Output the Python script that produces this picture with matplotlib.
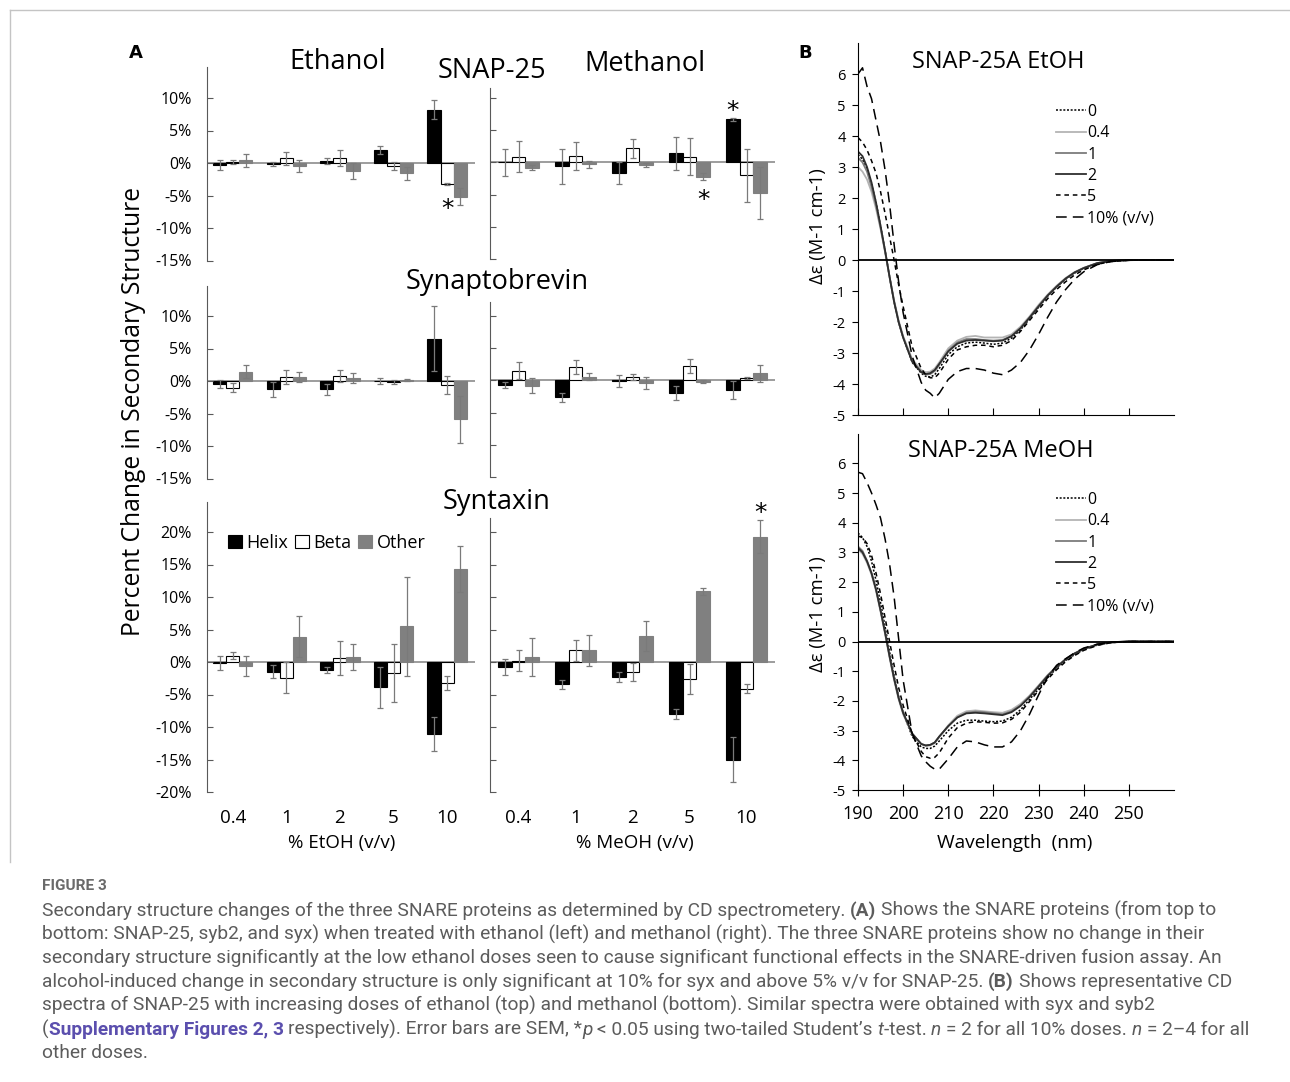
import numpy as np
import matplotlib
matplotlib.use("Agg")
import matplotlib.pyplot as plt
from matplotlib.lines import Line2D

plt.rcParams['font.family'] = ['Open Sans', 'DejaVu Sans']
plt.rcParams['axes.unicode_minus'] = False

W, H = 1290, 1082

# ---------------- Panel A data (percent change) ----------------
doses = ["0.4", "1", "2", "5", "10"]

snap_etoh_helix = [-0.3, -0.1, 0.3, 2.0, 8.2]
snap_etoh_helix_err = [0.8, 0.3, 0.5, 0.6, 1.5]
snap_etoh_beta = [0.1, 0.7, 0.8, -0.5, -3.2]
snap_etoh_beta_err = [0.3, 1.0, 1.2, 0.6, 0.2]
snap_etoh_other = [0.4, -0.5, -1.2, -1.6, -5.2]
snap_etoh_other_err = [1.0, 0.9, 1.2, 1.0, 1.3]

snap_meoh_helix = [0.0, -0.6, -1.6, 1.4, 6.7]
snap_meoh_helix_err = [2.1, 2.7, 1.7, 2.5, 0.2]
snap_meoh_beta = [0.9, 1.0, 2.2, 0.9, -2.0]
snap_meoh_beta_err = [2.4, 2.1, 1.5, 2.9, 4.1]
snap_meoh_other = [-0.8, -0.3, -0.4, -2.2, -4.7]
snap_meoh_other_err = [0.4, 0.6, 0.3, 0.5, 4.0]

syb_etoh_helix = [-0.4, -1.3, -1.3, 0.0, 6.5]
syb_etoh_helix_err = [0.6, 1.2, 0.9, 0.4, 5.0]
syb_etoh_beta = [-1.0, 0.6, 0.8, -0.1, -0.6]
syb_etoh_beta_err = [0.7, 1.1, 0.9, 0.3, 1.4]
syb_etoh_other = [1.4, 0.6, 0.5, 0.1, -5.9]
syb_etoh_other_err = [1.0, 0.8, 0.8, 0.15, 3.6]

syb_meoh_helix = [-0.7, -2.6, -0.1, -1.9, -1.5]
syb_meoh_helix_err = [0.4, 0.7, 0.9, 1.1, 1.4]
syb_meoh_beta = [1.5, 2.1, 0.5, 2.2, 0.4]
syb_meoh_beta_err = [1.3, 1.1, 0.45, 1.1, 0.2]
syb_meoh_other = [-0.8, 0.6, -0.4, -0.2, 1.1]
syb_meoh_other_err = [1.2, 0.6, 0.9, 0.2, 1.3]

syx_etoh_helix = [-0.2, -1.5, -1.2, -3.9, -11.1]
syx_etoh_helix_err = [1.1, 1.0, 0.5, 3.1, 2.6]
syx_etoh_beta = [1.0, -2.4, 0.6, -1.7, -3.2]
syx_etoh_beta_err = [0.5, 2.4, 2.6, 4.5, 1.1]
syx_etoh_other = [-0.6, 3.9, 0.7, 5.5, 14.3]
syx_etoh_other_err = [1.6, 3.2, 2.0, 7.6, 3.6]

syx_meoh_helix = [-0.8, -3.4, -2.3, -8.0, -15.0]
syx_meoh_helix_err = [1.2, 0.7, 0.8, 0.7, 3.4]
syx_meoh_beta = [0.2, 1.8, -1.5, -2.6, -4.1]
syx_meoh_beta_err = [1.6, 1.6, 1.4, 2.3, 0.7]
syx_meoh_other = [0.8, 1.8, 4.0, 10.9, 19.3]
syx_meoh_other_err = [2.9, 2.4, 2.3, 0.55, 2.5]

# significance stars: (dose index, series, y in %)
snap_etoh_stars = [(4, "beta", -7.1)]
snap_meoh_stars = [(4, "helix", 7.9), (3, "other", -5.9)]
syx_meoh_stars = [(4, "other", 22.9)]

# ---------------- Panel B data (CD spectra, delta epsilon) ----------------
wl = [190, 191, 192, 193, 194, 195, 196, 197, 198, 199, 200, 202, 204, 205, 206, 207, 208,
      210, 212, 214, 216, 218, 220, 222, 224, 226, 228, 230, 232, 234, 236, 238, 240,
      243, 246, 250, 255, 260]

etoh_0 = [3.4, 3.25, 2.95, 2.45, 1.85, 1.1, 0.3, -0.55, -1.35, -2.0, -2.5, -3.3, -3.65, -3.75,
          -3.78, -3.7, -3.5, -3.05, -2.8, -2.68, -2.65, -2.68, -2.72, -2.68, -2.52, -2.25,
          -1.9, -1.52, -1.17, -0.87, -0.62, -0.42, -0.27, -0.11, -0.04, 0.0, 0.0, 0.0]
etoh_04 = [3.0, 2.85, 2.6, 2.2, 1.65, 1.0, 0.25, -0.55, -1.3, -1.95, -2.45, -3.2, -3.55, -3.62,
           -3.6, -3.5, -3.3, -2.85, -2.6, -2.48, -2.45, -2.5, -2.5, -2.5, -2.4, -2.15,
           -1.82, -1.45, -1.12, -0.83, -0.58, -0.39, -0.25, -0.1, -0.03, 0.0, 0.0, 0.0]
etoh_1 = [3.3, 3.15, 2.85, 2.35, 1.75, 1.05, 0.28, -0.55, -1.35, -2.0, -2.5, -3.25, -3.6, -3.7,
          -3.68, -3.58, -3.38, -2.92, -2.66, -2.55, -2.55, -2.58, -2.6, -2.58, -2.45, -2.2,
          -1.86, -1.48, -1.14, -0.85, -0.6, -0.4, -0.26, -0.1, -0.03, 0.0, 0.0, 0.0]
etoh_2 = [3.5, 3.35, 3.0, 2.5, 1.85, 1.1, 0.3, -0.55, -1.35, -2.0, -2.5, -3.28, -3.62, -3.68,
          -3.65, -3.55, -3.35, -2.95, -2.7, -2.6, -2.58, -2.6, -2.62, -2.6, -2.46, -2.2,
          -1.86, -1.5, -1.15, -0.86, -0.6, -0.4, -0.26, -0.1, -0.03, 0.0, 0.0, 0.0]
etoh_5 = [3.95, 3.8, 3.55, 3.2, 2.8, 2.2, 1.5, 0.75, 0.0, -0.8, -1.5, -2.8, -3.5, -3.7,
          -3.8, -3.8, -3.65, -3.2, -2.9, -2.8, -2.75, -2.75, -2.8, -2.75, -2.6, -2.3,
          -1.95, -1.6, -1.25, -0.95, -0.7, -0.48, -0.32, -0.14, -0.05, -0.01, 0.0, 0.0]
etoh_10 = [6.0, 6.2, 5.6, 5.2, 4.5, 3.8, 2.9, 1.8, 0.5, -0.7, -1.7, -3.1, -3.95, -4.2,
           -4.3, -4.45, -4.3, -3.85, -3.6, -3.5, -3.5, -3.55, -3.65, -3.7, -3.55, -3.3,
           -2.9, -2.4, -1.85, -1.35, -0.95, -0.62, -0.38, -0.15, -0.05, -0.01, 0.0, 0.0]

meoh_0 = [3.65, 3.5, 3.2, 2.7, 2.05, 1.3, 0.5, -0.35, -1.15, -1.85, -2.4, -3.2, -3.55, -3.6,
          -3.6, -3.52, -3.35, -3.0, -2.75, -2.65, -2.65, -2.68, -2.7, -2.68, -2.55, -2.3,
          -1.95, -1.6, -1.22, -0.9, -0.64, -0.44, -0.28, -0.12, -0.04, 0.0, 0.0, 0.0]
meoh_04 = [3.1, 2.95, 2.65, 2.25, 1.7, 1.0, 0.25, -0.55, -1.3, -1.95, -2.45, -3.12, -3.45, -3.52,
           -3.5, -3.42, -3.22, -2.82, -2.5, -2.35, -2.32, -2.35, -2.38, -2.4, -2.3, -2.1,
           -1.82, -1.48, -1.13, -0.84, -0.59, -0.4, -0.25, -0.1, -0.03, 0.01, 0.0, 0.0]
meoh_1 = [3.2, 3.05, 2.72, 2.3, 1.75, 1.05, 0.3, -0.5, -1.25, -1.9, -2.4, -3.1, -3.45, -3.5,
          -3.48, -3.4, -3.2, -2.85, -2.55, -2.4, -2.36, -2.38, -2.42, -2.45, -2.35, -2.15,
          -1.85, -1.5, -1.15, -0.85, -0.6, -0.4, -0.25, -0.1, -0.03, 0.01, 0.0, 0.0]
meoh_2 = [3.15, 3.0, 2.7, 2.3, 1.75, 1.05, 0.3, -0.5, -1.25, -1.9, -2.4, -3.1, -3.45, -3.5,
          -3.48, -3.4, -3.2, -2.85, -2.56, -2.42, -2.4, -2.42, -2.45, -2.48, -2.38, -2.17,
          -1.87, -1.52, -1.16, -0.86, -0.6, -0.4, -0.25, -0.1, -0.03, 0.0, 0.0, 0.0]
meoh_5 = [3.55, 3.5, 3.3, 2.9, 2.3, 1.6, 0.8, 0.0, -0.8, -1.55, -2.15, -3.1, -3.7, -3.88,
          -3.93, -3.9, -3.75, -3.25, -2.9, -2.75, -2.7, -2.72, -2.75, -2.74, -2.62, -2.38,
          -2.02, -1.65, -1.27, -0.95, -0.68, -0.47, -0.3, -0.13, -0.04, 0.0, 0.0, 0.0]
meoh_10 = [5.7, 5.65, 5.35, 5.0, 4.6, 4.15, 3.45, 2.6, 1.5, 0.1, -1.3, -3.1, -3.85, -4.05,
           -4.2, -4.3, -4.3, -3.95, -3.55, -3.35, -3.38, -3.48, -3.55, -3.55, -3.38, -3.0,
           -2.45, -1.8, -1.2, -0.8, -0.58, -0.38, -0.22, -0.09, -0.03, 0.0, 0.0, 0.0]

cd_labels = ["0", "0.4", "1", "2", "5", "10% (v/v)"]
cd_styles = [
    dict(color="black", lw=1.1, ls=(0, (1.3, 1.1))),
    dict(color="#b4b4b4", lw=1.3, ls="-"),
    dict(color="#7c7c7c", lw=1.3, ls="-"),
    dict(color="#2e2e2e", lw=1.3, ls="-"),
    dict(color="black", lw=1.1, ls=(0, (3, 2.5))),
    dict(color="black", lw=1.1, ls=(0, (7, 4))),
]

fig = plt.figure(figsize=(W / 100, H / 100), dpi=100)


def fx(x):
    return x / W


def fy(y):
    return 1 - y / H


def add_ax(x0, y0, x1, y1):
    return fig.add_axes([fx(x0), fy(y1), (x1 - x0) / W, (y1 - y0) / H])


SPINE = "#595959"
GREY = "#808080"
PX_PER_PCT = 6.5


def bar_ax(xr, y_zero, ylim):
    return add_ax(xr[0], y_zero - ylim[1] * PX_PER_PCT, xr[1], y_zero - ylim[0] * PX_PER_PCT)


def bar_panel(ax, data, ylim, yticks, xlim, show_ylabels, show_xlabels, stars=()):
    helix, helix_err, beta, beta_err, other, other_err = data
    x = np.arange(len(doses))
    w = 0.245
    ek = dict(ecolor="#7a7a7a", elinewidth=0.9, capsize=2, capthick=0.9)
    ax.bar(x - w, helix, w, yerr=helix_err, color="black", edgecolor="black", lw=0.8,
           error_kw=ek, label="Helix")
    ax.bar(x, beta, w, yerr=beta_err, color="white", edgecolor="black", lw=0.8,
           error_kw=ek, label="Beta")
    ax.bar(x + w, other, w, yerr=other_err, color=GREY, edgecolor=GREY, lw=0.8,
           error_kw=ek, label="Other")
    ax.axhline(0, color="#8c8c8c", lw=1.2, zorder=0.5)
    offs = {"helix": -w, "beta": 0, "other": w}
    for i, s, yv in stars:
        ax.text(i + offs[s], yv, "*", ha="center", va="center", fontsize=18,
                family="DejaVu Sans")
    ax.set_xlim(*xlim)
    ax.set_ylim(*ylim)
    for s in ["top", "right", "bottom"]:
        ax.spines[s].set_visible(False)
    ax.spines["left"].set_color(SPINE)
    ax.set_yticks(yticks)
    ax.set_yticklabels([f"{t}%" for t in yticks] if show_ylabels else [])
    ax.tick_params(axis="y", direction="in", length=4, color=SPINE, labelsize=11.5, pad=11)
    if show_xlabels:
        ax.set_xticks(x)
        ax.set_xticklabels(doses, fontsize=13.5)
        ax.tick_params(axis="x", length=0, pad=12)
    else:
        ax.set_xticks([])
    ax.patch.set_alpha(0)


LX = (207, 475)
RX = (490, 775)
xl_left = (-0.48, 4.52)
xl_right = (-0.5, 4.5)

t15 = list(range(-15, 11, 5))
t20 = list(range(-20, 21, 5))

ylim = (-15, 14.7)
ax = bar_ax(LX, 163, ylim)
bar_panel(ax, (snap_etoh_helix, snap_etoh_helix_err, snap_etoh_beta, snap_etoh_beta_err,
               snap_etoh_other, snap_etoh_other_err), ylim, t15, xl_left, True, False,
          snap_etoh_stars)
ylim = (-14.8, 11.5)
ax = bar_ax(RX, 163, ylim)
bar_panel(ax, (snap_meoh_helix, snap_meoh_helix_err, snap_meoh_beta, snap_meoh_beta_err,
               snap_meoh_other, snap_meoh_other_err), ylim, t15, xl_right, False, False,
          snap_meoh_stars)

ylim = (-15, 14.6)
ax = bar_ax(LX, 381, ylim)
bar_panel(ax, (syb_etoh_helix, syb_etoh_helix_err, syb_etoh_beta, syb_etoh_beta_err,
               syb_etoh_other, syb_etoh_other_err), ylim, t15, xl_left, True, False)
ylim = (-14.8, 12.2)
ax = bar_ax(RX, 381, ylim)
bar_panel(ax, (syb_meoh_helix, syb_meoh_helix_err, syb_meoh_beta, syb_meoh_beta_err,
               syb_meoh_other, syb_meoh_other_err), ylim, t15, xl_right, False, False)

ylim = (-20, 24.6)
ax_syx = bar_ax(LX, 662, ylim)
bar_panel(ax_syx, (syx_etoh_helix, syx_etoh_helix_err, syx_etoh_beta, syx_etoh_beta_err,
                   syx_etoh_other, syx_etoh_other_err), ylim, t20, xl_left, True, True)
ylim = (-20, 22.2)
ax = bar_ax(RX, 662, ylim)
bar_panel(ax, (syx_meoh_helix, syx_meoh_helix_err, syx_meoh_beta, syx_meoh_beta_err,
               syx_meoh_other, syx_meoh_other_err), ylim, t20, xl_right, False, True,
          syx_meoh_stars)

ax_syx.legend(loc="center left", bbox_to_anchor=(fx(228), fy(543)),
              bbox_transform=fig.transFigure, ncol=3, frameon=False, fontsize=13,
              handlelength=0.75, handleheight=0.75, handletextpad=0.25, columnspacing=0.4,
              borderpad=0, borderaxespad=0)

title_kw = dict(ha="center", va="center", fontsize=19.5)
fig.text(fx(338), fy(62), "Ethanol", **title_kw)
fig.text(fx(492), fy(71), "SNAP-25", **title_kw)
fig.text(fx(645), fy(64), "Methanol", **title_kw)
fig.text(fx(497), fy(282), "Synaptobrevin", **title_kw)
fig.text(fx(497), fy(502), "Syntaxin", **title_kw)
fig.text(fx(342), fy(843), "% EtOH (v/v)", ha="center", va="center", fontsize=13.5)
fig.text(fx(635), fy(843), "% MeOH (v/v)", ha="center", va="center", fontsize=13.5)
fig.text(fx(134), fy(412), "Percent Change in Secondary Structure", rotation=90,
         ha="center", va="center", fontsize=17.7)
fig.text(fx(136), fy(53), "A", ha="center", va="center", fontsize=13, fontweight="bold",
         family="DejaVu Sans")
fig.text(fx(805), fy(53), "B", ha="center", va="center", fontsize=13, fontweight="bold",
         family="DejaVu Sans")


# ---------------- Panel B ----------------
def cd_panel(ax, curves, show_xlabels, leg_top):
    for vals, lab, st in zip(curves, cd_labels, cd_styles):
        ax.plot(wl, vals, label=lab, **st)
    ax.axhline(0, color="black", lw=1.3)
    ax.set_xlim(190, 260)
    ax.set_ylim(-5, 7)
    ax.set_yticks(range(-5, 7))
    ax.set_xticks(range(190, 251, 10))
    for s in ["top", "right"]:
        ax.spines[s].set_visible(False)
    ax.tick_params(axis="y", direction="out", length=4, labelsize=10.5, pad=5)
    if show_xlabels:
        ax.tick_params(axis="x", direction="inout", length=8, labelsize=13, pad=7)
    else:
        ax.tick_params(axis="x", direction="in", length=5, labelbottom=False)
    ax.legend(loc="upper left", frameon=False, fontsize=11.5, handlelength=1.9,
              handletextpad=0.05, labelspacing=0.33, borderpad=0, borderaxespad=0,
              bbox_to_anchor=(fx(1056), fy(leg_top)), bbox_transform=fig.transFigure)
    ax.patch.set_alpha(0)


ax = add_ax(858, 415 - 12 * 31, 1174, 415)
cd_panel(ax, [etoh_0, etoh_04, etoh_1, etoh_2, etoh_5, etoh_10], False, 104)
ax = add_ax(858, 790 - 12 * 29.7, 1174, 790)
cd_panel(ax, [meoh_0, meoh_04, meoh_1, meoh_2, meoh_5, meoh_10], True, 492)

title_b = dict(ha="center", va="center", fontsize=17)
fig.text(fx(998), fy(62), "SNAP-25A EtOH", **title_b)
fig.text(fx(1001), fy(451), "SNAP-25A MeOH", **title_b)
fig.text(fx(818), fy(226), "\u0394\u03b5 (M-1 cm-1)", rotation=90, ha="center", va="center",
         fontsize=13.3)
fig.text(fx(818), fy(614), "\u0394\u03b5 (M-1 cm-1)", rotation=90, ha="center", va="center",
         fontsize=13.3)
fig.text(fx(1015), fy(843), "Wavelength  (nm)", ha="center", va="center", fontsize=13.8)

# frame around figure area
fig.add_artist(Line2D([fx(10), 1], [fy(10), fy(10)], transform=fig.transFigure,
                      color="#c4c4c4", lw=1))
fig.add_artist(Line2D([fx(10), fx(10)], [fy(10), fy(862)], transform=fig.transFigure,
                      color="#c4c4c4", lw=1))

# ---------------- Caption ----------------
renderer = fig.canvas.get_renderer()
CAP_FONT = ["Roboto", "DejaVu Sans"]
CAP_COLOR = "#5c5c5c"


def text_w(s, props):
    t1 = fig.text(0, 0, s + "|", **props)
    t2 = fig.text(0, 0, "|", **props)
    w = t1.get_window_extent(renderer).width - t2.get_window_extent(renderer).width
    t1.remove()
    t2.remove()
    return w


# fit caption size so the 2nd line spans the measured width
line2 = ("bottom: SNAP-25, syb2, and syx) when treated with ethanol (left) and methanol (right). "
         "The three SNARE proteins show no change in their")
probe = dict(family=CAP_FONT, fontsize=13)
cap_size = 13 * 1162 / text_w(line2, probe)

styles = {
    "r": dict(color=CAP_COLOR),
    "b": dict(color=CAP_COLOR, fontweight="bold"),
    "i": dict(color=CAP_COLOR, style="italic"),
    "link": dict(color="#5b4fae", fontweight="bold"),
}

caption_lines = [
    [("Secondary structure changes of the three SNARE proteins as determined by CD spectrometery. ", "r"),
     ("(A)", "b"), (" Shows the SNARE proteins (from top to", "r")],
    [(line2, "r")],
    [("secondary structure significantly at the low ethanol doses seen to cause significant "
      "functional effects in the SNARE-driven fusion assay. An", "r")],
    [("alcohol-induced change in secondary structure is only significant at 10% for syx and "
      "above 5% v/v for SNAP-25. ", "r"), ("(B)", "b"), (" Shows representative CD", "r")],
    [("spectra of SNAP-25 with increasing doses of ethanol (top) and methanol (bottom). "
      "Similar spectra were obtained with syx and syb2", "r")],
    [("(", "r"), ("Supplementary Figures 2, 3", "link"),
     (" respectively). Error bars are SEM, *", "r"), ("p", "i"),
     (" < 0.05 using two-tailed Student\u2019s ", "r"), ("t", "i"), ("-test. ", "r"),
     ("n", "i"), (" = 2 for all 10% doses. ", "r"), ("n", "i"), (" = 2\u20134 for all", "r")],
    [("other doses.", "r")],
]
caption_y = [911, 934.5, 958, 982, 1006, 1030, 1053]

for yc, segs in zip(caption_y, caption_lines):
    x = 42.0
    for txt, st in segs:
        props = dict(family=CAP_FONT, fontsize=cap_size, **styles[st])
        lead = len(txt) - len(txt.lstrip(" "))
        if lead:
            x += lead * text_w(" ", props)
        body = txt.lstrip(" ")
        fig.text(fx(x), fy(yc + 5), body, ha="left", va="baseline", **props)
        x += text_w(body, props)

fig.text(fx(42), fy(890), "FIGURE 3", ha="left", va="baseline", family=CAP_FONT,
         fontsize=cap_size * 0.8, color="#6a6a6a", fontweight="bold")

fig.savefig("out.png", dpi=100)
